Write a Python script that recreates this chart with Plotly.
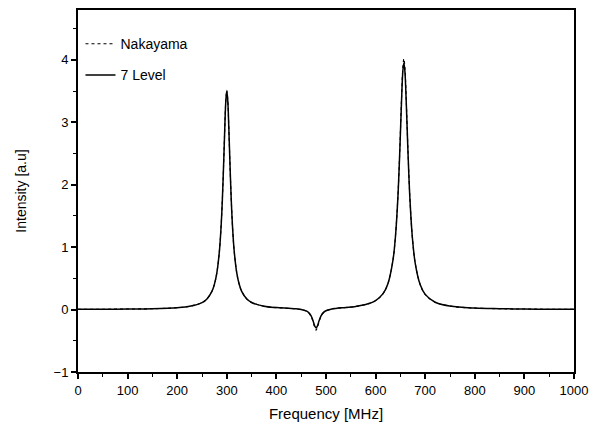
import plotly.graph_objects as go

freq = [0, 50, 100, 150, 200, 225, 250, 260, 270, 275, 280, 285, 288, 291, 294, 296, 298, 300,
        302, 304, 306, 309, 312, 315, 320, 325, 330, 340, 350, 375, 400, 425, 440, 450, 460, 465,
        470, 474, 477, 480, 483, 486, 490, 495, 500, 510, 520, 540, 560, 580, 600, 615, 625, 635,
        640, 645, 649, 652, 655, 657, 659, 662, 665, 669, 674, 680, 690, 700, 720, 750, 800, 850,
        900, 950, 1000]

level7 = [0.004, 0.006, 0.009, 0.014, 0.030, 0.052, 0.112, 0.171, 0.292, 0.404, 0.592, 0.929, 1.262,
          1.753, 2.426, 2.926, 3.338, 3.503, 3.341, 2.929, 2.429, 1.756, 1.265, 0.929, 0.592, 0.405,
          0.293, 0.173, 0.114, 0.054, 0.032, 0.020, 0.012, 0.003, -0.021, -0.048, -0.102, -0.181,
          -0.257, -0.296, -0.256, -0.180, -0.100, -0.045, -0.018, 0.007, 0.019, 0.034, 0.051, 0.081,
          0.144, 0.256, 0.419, 0.792, 1.168, 1.806, 2.585, 3.276, 3.826, 3.952, 3.826, 3.276, 2.585,
          1.806, 1.168, 0.737, 0.397, 0.244, 0.118, 0.056, 0.024, 0.014, 0.009, 0.006, 0.005]

nakayama = [0.004, 0.006, 0.009, 0.014, 0.030, 0.052, 0.112, 0.171, 0.292, 0.404, 0.592, 0.929, 1.262,
            1.753, 2.430, 2.935, 3.350, 3.515, 3.352, 2.938, 2.433, 1.758, 1.265, 0.929, 0.592, 0.405,
            0.293, 0.173, 0.114, 0.054, 0.032, 0.020, 0.012, 0.002, -0.023, -0.052, -0.110, -0.195,
            -0.275, -0.330, -0.275, -0.195, -0.108, -0.049, -0.020, 0.006, 0.019, 0.034, 0.051, 0.081,
            0.144, 0.256, 0.419, 0.792, 1.170, 1.815, 2.610, 3.320, 3.890, 4.020, 3.890, 3.320, 2.610,
            1.815, 1.170, 0.737, 0.397, 0.244, 0.118, 0.056, 0.024, 0.014, 0.009, 0.006, 0.005]

x_ticks = [0, 100, 200, 300, 400, 500, 600, 700, 800, 900, 1000]
y_ticks = [-1, 0, 1, 2, 3, 4]

fig = go.Figure()
fig.add_trace(go.Scatter(x=freq, y=nakayama, mode="lines", name="Nakayama", legendgroup="a",
                         line=dict(color="black", width=1.1, dash="dot", shape="spline")))
fig.add_trace(go.Scatter(x=freq, y=level7, mode="lines", name="7 Level", legendgroup="b",
                         line=dict(color="black", width=1.5, shape="spline")))

font = "Liberation Sans, Arial, sans-serif"
axis_common = dict(showline=True, linecolor="black", linewidth=2, mirror=True,
                   ticks="outside", ticklen=5, tickwidth=1.5, tickcolor="black",
                   showgrid=False, zeroline=False,
                   tickfont=dict(family=font, size=13, color="black"))

fig.update_layout(
    width=603, height=430,
    margin=dict(l=78, r=29, t=8, b=58),
    paper_bgcolor="white", plot_bgcolor="white",
    showlegend=True,
    legend=dict(x=0.005, y=0.95, xanchor="left", yanchor="top", traceorder="grouped",
                bgcolor="rgba(0,0,0,0)", font=dict(family=font, size=14, color="black"),
                tracegroupgap=10, itemwidth=30),
    xaxis=dict(range=[0, 1000], tickvals=x_ticks,
               title=dict(text="Frequency [MHz]", font=dict(family=font, size=15, color="black"), standoff=12),
               minor=dict(ticks="outside", dtick=50, tick0=0, ticklen=3, tickcolor="black", tickwidth=1),
               **axis_common),
    yaxis=dict(range=[-1, 4.8], tickvals=y_ticks,
               title=dict(text="Intensity [a.u]", font=dict(family=font, size=14, color="black"), standoff=24),
               minor=dict(ticks="outside", dtick=0.5, tick0=0, ticklen=3, tickcolor="black", tickwidth=1),
               **axis_common),
)

fig.write_html("out.html")
